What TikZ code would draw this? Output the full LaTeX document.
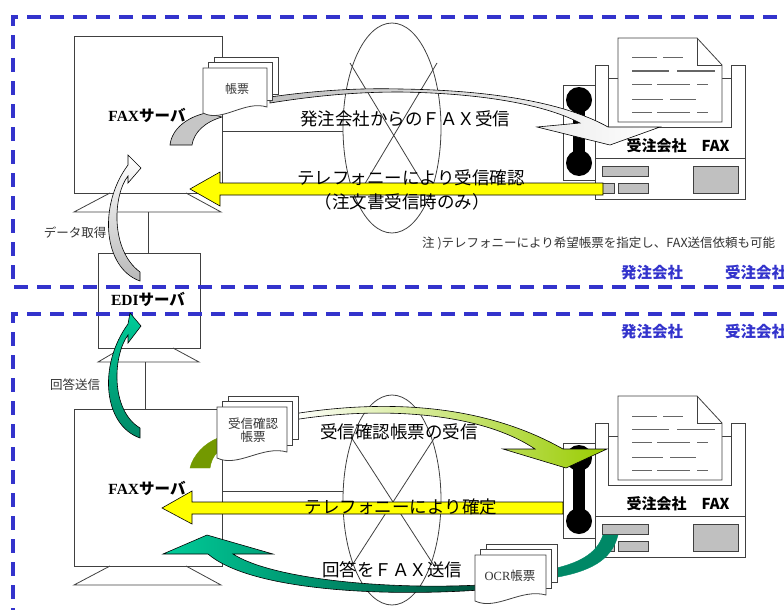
\documentclass[tikz,border=0pt]{standalone}
\usepackage{fontspec}
\setmainfont{Liberation Serif}
\newfontfamily\jp{Noto Sans CJK JP}

\definecolor{dashblue}{HTML}{3333CC}
\definecolor{arrowyellow}{HTML}{FFFF00}
\definecolor{limehead}{HTML}{99CC00}
\definecolor{olivetail}{HTML}{739900}
\definecolor{tealhead}{HTML}{00CC99}
\definecolor{tealtail}{HTML}{008866}
\definecolor{panelgray}{HTML}{C0C0C0}

% stack of three sheets, front sheet at (#1,#2), size #3 x #4
\newcommand{\docstack}[4]{%
  \draw[sheet] ({#1+11},{#2-11}) rectangle ++(#3,{#4-2});
  \draw[sheet] ({#1+5.5},{#2-5.5}) rectangle ++(#3,{#4-1});
  \draw[sheet] (#1,#2) -- ++(#3,0) -- ++(0,#4)
    .. controls +({-0.35*#3},-7) and +({0.3*#3},10) .. ++({-#3},6) -- cycle;
}

% fax machine with handset
\newcommand{\faxunit}{%
  \draw[line] (563,85) rectangle (595,180);
  \fill (579,100) circle (13pt);
  \fill (579,163) circle (13pt);
  \fill (573,100) rectangle (585,163);
  \draw[line, fill=white] (595,65) -- (608,65) -- (608,127) -- (731,127)
    -- (731,65) -- (745,65) -- (745,199) -- (595,199) -- cycle;
  \draw[line] (595,158) -- (745,158);
  \draw[line] (608,78) -- (618,78) (722,78) -- (731,78);
  \draw[line, fill=white] (618,38) -- (697,38) -- (722,65) -- (722,122) -- (618,122) -- cycle;
  \draw[line] (697,38) -- (697,65) -- (722,65);
  \draw[pline] (632,58) -- (657,58) (663,58) -- (683,58);
  \draw[pline] (632,71) -- (669,71) (677,71) -- (715,71);
  \draw[pline] (632,84) -- (652,84) (657,84) -- (690,84) (697,84) -- (708,84);
  \draw[pline] (632,99) -- (663,99) (670,99) -- (696,99);
  \draw[pline] (632,112) -- (652,112) (657,112) -- (690,112) (697,112) -- (708,112);
  \draw[knob] (602,166) rectangle (648,176);
  \draw[knob] (602,183) rectangle (614,193);
  \draw[knob] (618,183) rectangle (648,193);
  \draw[knob] (693,166) rectangle (738,193);
}

\begin{document}
\begin{tikzpicture}[x=1pt, y=-1pt,
    line/.style    = {black!75, line width=0.8pt},
    frame/.style   = {dashblue, line width=3.5pt, dash pattern=on 14pt off 9pt},
    sheet/.style   = {line, fill=white},
    pline/.style   = {black!60, line width=1pt},
    knob/.style    = {line, fill=panelgray},
    yarrow/.style  = {black, line width=0.6pt, fill=arrowyellow},
    band/.style    = {black, line width=0.6pt},
    big/.style     = {inner sep=0pt, font=\jp\fontsize{17.5}{20}\selectfont},
    small/.style   = {inner sep=0pt, font=\jp\fontsize{12.5}{14}\selectfont, black!80},
    doclabel/.style= {inner sep=0pt, align=center, font=\jp\fontsize{12.5}{14}\selectfont, black!80},
    srv/.style     = {inner sep=0pt, font=\fontsize{15.5}{18}\selectfont\bfseries},
    faxname/.style = {inner sep=0pt, font=\jp\fontsize{15}{18}\selectfont\bfseries},
    side/.style    = {inner sep=0pt, font=\jp\fontsize{15.5}{18}\selectfont\bfseries, dashblue}]

\clip (0,0) rectangle (784,610);

% servers (FAX / EDI / FAX)
\draw[line] (74,36) rectangle (222,193);
\draw[line] (110,193) -- (74,212) -- (221,212) -- (186,193);
\draw[line] (148,212) -- (148,253);
\draw[line] (98,253) rectangle (200,348);
\draw[line] (122,348) -- (98,362) -- (199,362) -- (173,348);
\draw[line] (145,362) -- (145,409);
\draw[line] (74,409) rectangle (222,566);
\draw[line] (110,566) -- (74,585) -- (221,585) -- (186,566);
\draw[line] (222,131) -- (343,131);
\draw[line] (222,491) -- (343,491);

% dashed areas
\draw[frame] (800,17) -- (13,17) -- (13,287) -- (800,287);
\draw[frame] (800,314) -- (13,314) -- (13,620);

% line cloud
\draw[line] (392,128) ellipse [x radius=49pt, y radius=105pt];
\draw[line] (350,63) -- (431,197) (437,63) -- (357,197);
\draw[line] (392,500) ellipse [x radius=49pt, y radius=105pt];
\draw[line] (351,437) -- (435,567) (435,437) -- (351,567);

% fax machines
\faxunit
\begin{scope}[shift={(0,358)}]
  \faxunit
\end{scope}

% incoming fax
\draw[band, fill=gray!45] (170,145) .. controls (172,128) and (188,117) .. (206,113)
  -- (222,117) .. controls (205,122) and (194,132) .. (192,145) -- cycle;
\draw[band, left color=gray!50, right color=white]
  (270,97) .. controls (320,90) and (360,88) .. (400,89)
  .. controls (480,90) and (560,100) .. (608,127) -- (660,127) -- (610,145) -- (537,127)
  -- (580,123) .. controls (540,102) and (470,93) .. (400,92)
  .. controls (360,92) and (320,95) .. (270,103) -- cycle;
\docstack{203}{68}{64}{39}

% confirmation sheet
\draw[olivetail, fill=olivetail] (190,468) .. controls (193,455) and (205,443) .. (218,438)
  -- (218,452) .. controls (213,456) and (211,462) .. (210,468) -- cycle;
\draw[band, left color=white, right color=limehead]
  (293,414) .. controls (380,400) and (480,402) .. (563,449) -- (607,449) -- (566,468)
  -- (503,449) -- (535,449) .. controls (480,412) and (380,406) .. (293,420) -- cycle;
\docstack{217}{407}{70}{45}

% reply by fax
\draw[tealtail, fill=tealtail] (552,569) .. controls (585,562) and (598,550) .. (603,535)
  -- (618,535) .. controls (612,560) and (590,572) .. (552,578) -- cycle;
\draw[band, left color=tealhead, right color=tealtail!60!black]
  (233,554) .. controls (270,578) and (380,590) .. (480,585) -- (480,590)
  .. controls (380,597) and (250,590) .. (208,554) -- (163,554) -- (207,535) -- (273,554) -- cycle;
\docstack{475}{555}{71}{40}

% EDI exchange
\draw[band, top color=white, bottom color=gray!55]
  (128,155) -- (141,168) -- (128,183) -- (128,176) .. controls (113,195) and (110,250) .. (140,272)
  -- (140,281) .. controls (103,268) and (98,205) .. (128,165) -- cycle;
\draw[band, top color=tealhead, bottom color=tealtail]
  (130,313) -- (141,326) -- (128,343) -- (128,335) .. controls (113,355) and (110,410) .. (140,428)
  -- (140,438) .. controls (103,425) and (98,365) .. (128,324) -- cycle;

% telephony
\draw[yarrow] (603,183) -- (220,183) -- (220,172) -- (190,189) -- (220,206) -- (220,195) -- (603,195) -- cycle;
\draw[yarrow] (563,502) -- (192,502) -- (192,491) -- (162,508) -- (192,524) -- (192,514) -- (563,514) -- cycle;

% labels
\node[srv] (fax1) at (147,115) {FAX{\jp サーバ}};
\node[srv] (edi) at (148,299) {EDI{\jp サーバ}};
\node[srv] (fax2) at (147,488) {FAX{\jp サーバ}};
\node[doclabel, font=\jp\fontsize{12}{14}\selectfont] (doc1) at (237,89) {帳票};
\node[doclabel] (doc2) at (253,430) {受信確認\\[-1pt]帳票};
\node[doclabel, font=\fontsize{12.5}{14}\selectfont] (doc3) at (510,576) {OCR{\jp 帳票}};
\node[big] (recv) at (405,119) {発注会社からのＦＡＸ受信};
\node[big] (tel1) at (411,178) {テレフォニーにより受信確認};
\node[big] (tel1b) at (402,202) {（注文書受信時のみ）};
\node[big] (conf) at (399,432) {受信確認帳票の受信};
\node[big] (tel2) at (401,507) {テレフォニーにより確定};
\node[big] (reply) at (392,570) {回答をＦＡＸ送信};
\node[faxname] (faxa) at (678,146) {受注会社　FAX};
\node[faxname] (faxb) at (678,504) {受注会社　FAX};
\node[small, anchor=west] (note) at (422,243) {注 )テレフォニーにより希望帳票を指定し、FAX送信依頼も可能};
\node[small] (get) at (75,233) {データ取得};
\node[small] (send) at (75,385) {回答送信};
\node[side] (buy1) at (652,273) {発注会社};
\node[side] (sell1) at (756,273) {受注会社};
\node[side] (buy2) at (652,332) {発注会社};
\node[side] (sell2) at (756,332) {受注会社};
\end{tikzpicture}
\end{document}
